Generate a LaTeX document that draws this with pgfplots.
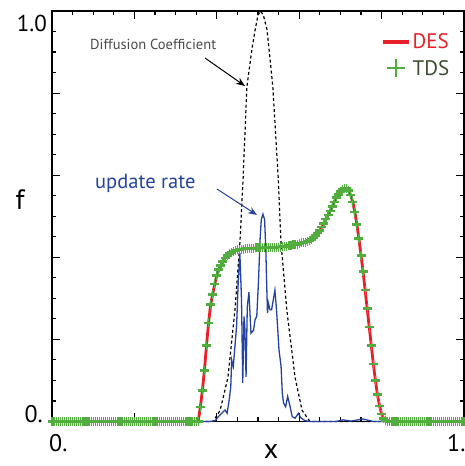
\documentclass[border=0pt]{standalone}
\usepackage{pgfplots}
\pgfplotsset{compat=1.18}
\usepackage{pgfplotstable}
\usepackage{fontspec}
\setmainfont{PT Sans}
\usetikzlibrary{arrows.meta}

\definecolor{desred}{HTML}{E8202A}
\definecolor{tdsgreen}{HTML}{52AD3E}
\definecolor{tdstext}{HTML}{3E4A2E}
\definecolor{updblue}{HTML}{2443A0}
\definecolor{difgray}{HTML}{4A4A4A}

% plus mark with a heavier horizontal bar, so the band hides the red line
\pgfdeclareplotmark{tdsplus}{%
  \pgfsetlinewidth{2.7pt}%
  \pgfpathmoveto{\pgfqpoint{-\pgfplotmarksize}{0pt}}%
  \pgfpathlineto{\pgfqpoint{\pgfplotmarksize}{0pt}}%
  \pgfusepathqstroke
  \pgfsetlinewidth{1.2pt}%
  \pgfpathmoveto{\pgfqpoint{0pt}{-\pgfplotmarksize}}%
  \pgfpathlineto{\pgfqpoint{0pt}{\pgfplotmarksize}}%
  \pgfusepathqstroke
}

% solution f(x), sampled every 0.005 (DES line and TDS marks)
\pgfplotstableread{
x f
0.000 0
0.005 0
0.010 0
0.015 0
0.020 0
0.025 0
0.030 0
0.035 0
0.040 0
0.045 0
0.050 0
0.055 0
0.060 0
0.065 0
0.070 0
0.075 0
0.080 0
0.085 0
0.090 0
0.095 0
0.100 0
0.105 0
0.110 0
0.115 0
0.120 0
0.125 0
0.130 0
0.135 0
0.140 0
0.145 0
0.150 0
0.155 0
0.160 0
0.165 0
0.170 0
0.175 0
0.180 0
0.185 0
0.190 0
0.195 0
0.200 0
0.205 0
0.210 0
0.215 0
0.220 0
0.225 0
0.230 0
0.235 0
0.240 0
0.245 0
0.250 0
0.255 0
0.260 0
0.265 0
0.270 0
0.275 0
0.280 0
0.285 0
0.290 0
0.295 0
0.300 0
0.305 0
0.310 0
0.315 0
0.320 0
0.325 0
0.330 0
0.335 0
0.340 0
0.345 0
0.350 0
0.355 0
0.360 0.035
0.365 0.075
0.370 0.125
0.375 0.185
0.380 0.240
0.385 0.285
0.390 0.310
0.395 0.335
0.400 0.355
0.405 0.370
0.410 0.380
0.415 0.390
0.420 0.398
0.425 0.404
0.430 0.409
0.435 0.412
0.440 0.415
0.445 0.417
0.450 0.418
0.455 0.419
0.460 0.420
0.465 0.420
0.470 0.421
0.475 0.421
0.480 0.422
0.485 0.422
0.490 0.422
0.495 0.423
0.500 0.423
0.505 0.423
0.510 0.423
0.515 0.423
0.520 0.423
0.525 0.424
0.530 0.424
0.535 0.424
0.540 0.424
0.545 0.425
0.550 0.425
0.555 0.425
0.560 0.426
0.565 0.426
0.570 0.427
0.575 0.428
0.580 0.429
0.585 0.430
0.590 0.431
0.595 0.432
0.600 0.433
0.605 0.435
0.610 0.436
0.615 0.437
0.620 0.439
0.625 0.441
0.630 0.444
0.635 0.448
0.640 0.453
0.645 0.459
0.650 0.466
0.655 0.474
0.660 0.483
0.665 0.493
0.670 0.503
0.675 0.513
0.680 0.524
0.685 0.535
0.690 0.545
0.695 0.553
0.700 0.560
0.705 0.565
0.710 0.568
0.715 0.567
0.720 0.562
0.725 0.552
0.730 0.535
0.735 0.510
0.740 0.480
0.745 0.445
0.750 0.405
0.755 0.365
0.760 0.320
0.765 0.275
0.770 0.230
0.775 0.185
0.780 0.140
0.785 0.100
0.790 0.065
0.795 0.038
0.800 0.018
0.805 0.008
0.810 0.003
0.815 0.001
0.820 0
0.825 0
0.830 0
0.835 0
0.840 0
0.845 0
0.850 0
0.855 0
0.860 0
0.865 0
0.870 0
0.875 0
0.880 0
0.885 0
0.890 0
0.895 0
0.900 0
0.905 0
0.910 0
0.915 0
0.920 0
0.925 0
0.930 0
0.935 0
0.940 0
0.945 0
0.950 0
0.955 0
0.960 0
0.965 0
0.970 0
0.975 0
0.980 0
0.985 0
0.990 0
0.995 0
1.000 0
}\solution

% diffusion coefficient
\pgfplotstableread{
x d
0.000 0
0.391 0
0.408 0.027
0.427 0.107
0.444 0.271
0.456 0.434
0.464 0.595
0.473 0.815
0.485 0.905
0.493 0.954
0.500 0.990
0.506 1.000
0.513 0.990
0.522 0.954
0.527 0.905
0.536 0.815
0.549 0.595
0.556 0.434
0.570 0.271
0.590 0.107
0.607 0.027
0.626 0
1.000 0
}\diffusion

% update rate
\pgfplotstableread{
x u
0.000 0
0.383 0
0.396 0.002
0.404 0.012
0.412 0.020
0.420 0.028
0.425 0.020
0.430 0.052
0.434 0.085
0.436 0.150
0.440 0.134
0.444 0.183
0.448 0.232
0.452 0.340
0.456 0.410
0.460 0.296
0.463 0.094
0.466 0.256
0.468 0.232
0.471 0.109
0.474 0.280
0.478 0.315
0.483 0.215
0.489 0.222
0.493 0.248
0.497 0.256
0.501 0.337
0.505 0.443
0.508 0.492
0.512 0.505
0.516 0.492
0.519 0.419
0.521 0.337
0.523 0.264
0.525 0.289
0.529 0.272
0.533 0.272
0.537 0.296
0.541 0.320
0.545 0.272
0.551 0.174
0.556 0.134
0.559 0.069
0.562 0.045
0.567 0.036
0.572 0.061
0.578 0.036
0.583 0.012
0.590 0.008
0.598 0.020
0.604 0.009
0.614 0.002
0.626 0
0.690 0
0.706 0.004
0.725 0.001
0.755 0.006
0.780 0
1.000 0
}\update

\begin{document}
\begin{tikzpicture}
\begin{axis}[
    at={(0,0)}, anchor=south west,
    width=412pt, height=410.5pt, scale only axis,
    xmin=0, xmax=1, ymin=0, ymax=1,
    xtick={0,0.2,...,1}, ytick={0,0.2,...,1},
    xticklabels={}, yticklabels={},
    minor x tick num=3, minor y tick num=3,
    xtick pos=both, ytick pos=both,
    tick align=inside,
    major tick length=8pt, minor tick length=4pt,
    tick style={black, line width=1.1pt},
    axis line style={line width=1.2pt},
    clip=false,
    legend style={draw=none, fill=none, at={(0.79,0.955)}, anchor=north west,
        font=\fontsize{21}{24}\selectfont, row sep=6pt,
        /tikz/every even column/.append style={column sep=10pt}},
    legend cell align=left,
]
\addplot[desred, line width=2.8pt,
    legend image code/.code={\draw[desred, line width=4pt] (0pt,0pt) -- (26pt,0pt);}]
    table[x=x, y=f] {\solution};
\addlegendentry{\textcolor{desred}{DES}}
\addplot[tdsgreen, only marks, mark=tdsplus, mark size=4.5pt,
    legend image code/.code={\draw[tdsgreen, line width=2pt]
        (4pt,0pt) -- (22pt,0pt) (13pt,-9pt) -- (13pt,9pt);}]
    table[x=x, y=f] {\solution};
\addlegendentry{\textcolor{tdstext}{TDS}}
\addplot[black, line width=1.2pt, dash pattern=on 3pt off 2.5pt, forget plot]
    table[x=x, y=d] {\diffusion};
\addplot[updblue, line width=1.3pt, forget plot]
    table[x=x, y=u] {\update};
\end{axis}

% tick labels and axis titles
\node[anchor=base west, inner sep=0pt, font=\fontsize{24}{28}\selectfont] at (-3pt,-30.5pt) {0.};
\node[anchor=base west, inner sep=0pt, font=\fontsize{24}{28}\selectfont] at (395pt,-30.5pt) {1.};
\node[anchor=base east, inner sep=0pt, font=\fontsize{24}{28}\selectfont] at (-9pt,-1.5pt) {0.};
\node[anchor=base east, inner sep=0pt, font=\fontsize{23}{28}\selectfont] at (-5pt,389.5pt) {1.0};
\node[anchor=base, inner sep=0pt, font=\fontsize{28}{30}\selectfont] at (-32pt,211.5pt) {f};
\node[anchor=base, inner sep=0pt, font=\fontsize{28}{30}\selectfont] at (219pt,-36.5pt) {x};

% annotations
\node[anchor=base west, inner sep=0pt, text=difgray, font=\fontsize{14.5}{16}\selectfont]
    at (38pt,371.5pt) {Diffusion Coefficient};
\draw[-{Stealth[length=9pt,width=7pt]}, black, line width=1pt] (153pt,363.5pt) -- (193pt,335.5pt);
\node[anchor=base west, inner sep=0pt, text=updblue, font=\fontsize{20.5}{22}\selectfont]
    at (43pt,232.5pt) {update rate};
\draw[-{Stealth[length=9pt,width=7pt]}, updblue, line width=1pt] (165pt,232.5pt) -- (205pt,206.5pt);

\pgfresetboundingbox
\useasboundingbox (-52pt,-44.5pt) rectangle (412pt,421.5pt);
\end{tikzpicture}
\end{document}
